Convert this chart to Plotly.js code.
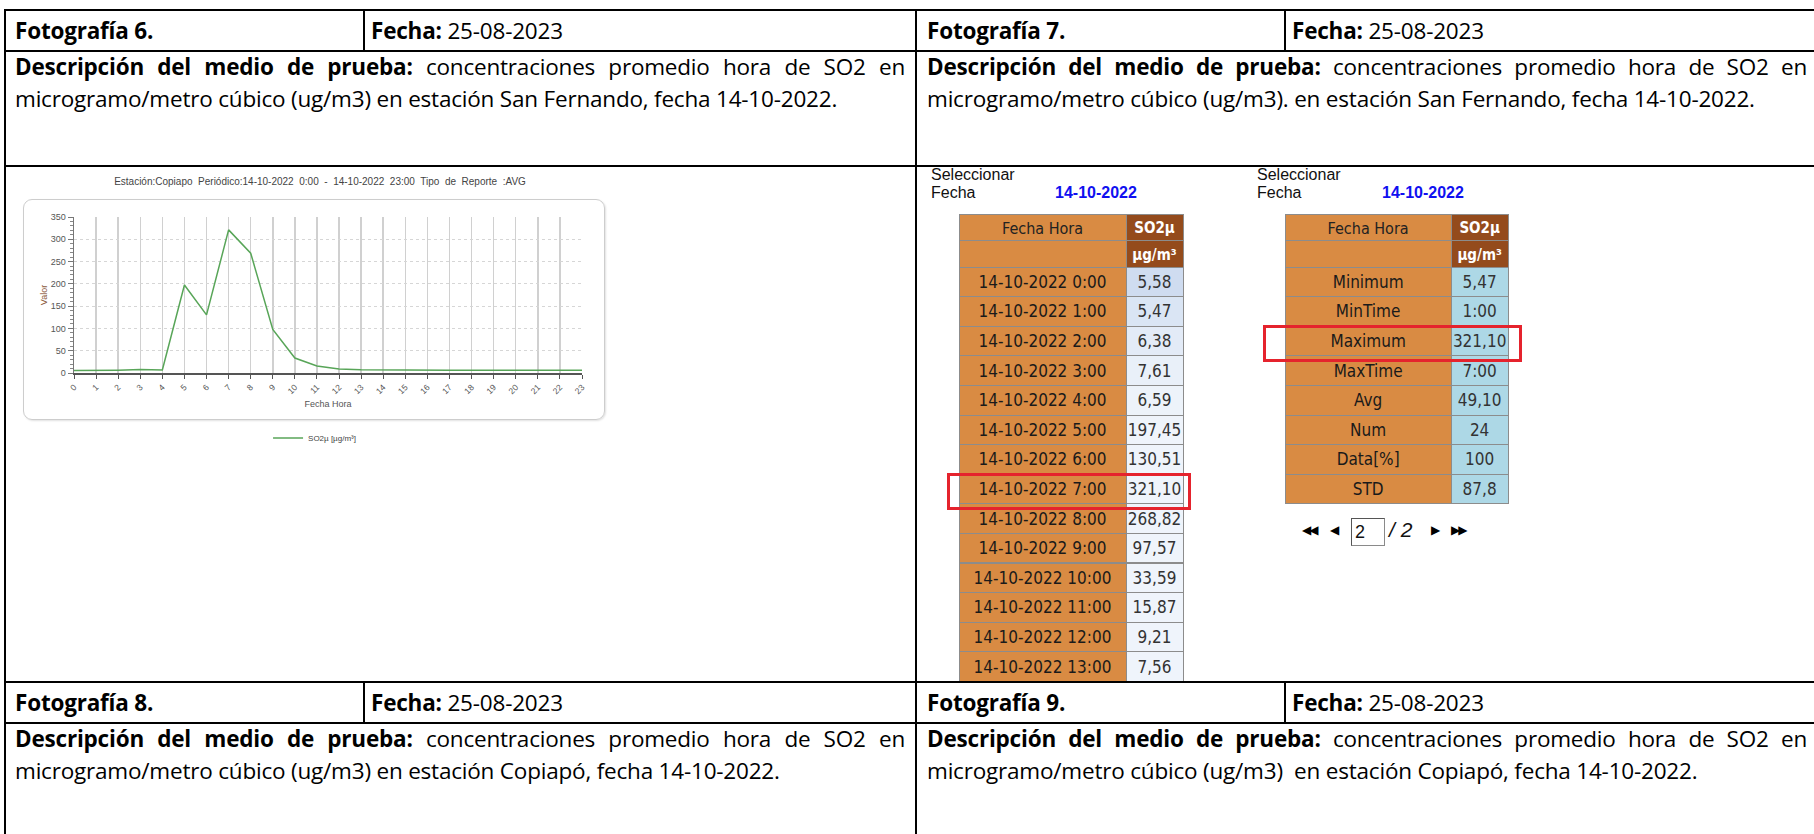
<!DOCTYPE html>
<html><head><meta charset="utf-8">
<script src="https://cdn.plot.ly/plotly-3.0.1.min.js"></script>
<style>
html,body{margin:0;padding:0;background:#fff;width:1814px;height:834px;overflow:hidden;position:relative;}
.hl{position:absolute;height:2px;background:#000;z-index:5;}
.vl{position:absolute;width:2px;background:#000;z-index:5;}
.doc{position:absolute;font-family:"Open Sans",Lato,sans-serif;font-size:22.5px;color:#000;white-space:nowrap;letter-spacing:-0.2px;}
.row{line-height:41px;height:41px;}
.l1{text-align:justify;text-align-last:justify;line-height:32px;white-space:normal;}
.l2{line-height:32px;white-space:pre;}
.ui{position:absolute;font-family:"Liberation Sans",Arial,sans-serif;font-size:16px;color:#111;white-space:nowrap;}
.red{position:absolute;border:3.5px solid #e5232d;box-sizing:border-box;z-index:6;}
.tri{position:absolute;font-family:"DejaVu Sans",sans-serif;font-size:12px;color:#000;letter-spacing:-2px;line-height:14px;}
</style></head><body>

<!-- document frame -->
<div class="hl" style="left:4px;top:9px;width:1820px"></div>
<div class="hl" style="left:4px;top:50px;width:1820px"></div>
<div class="hl" style="left:4px;top:165px;width:1820px"></div>
<div class="hl" style="left:4px;top:681px;width:1820px"></div>
<div class="hl" style="left:4px;top:722px;width:1820px"></div>
<div class="vl" style="left:4px;top:9px;height:830px"></div>
<div class="vl" style="left:915px;top:9px;height:830px"></div>
<div class="vl" style="left:363px;top:9px;height:42px"></div>
<div class="vl" style="left:1284px;top:9px;height:42px"></div>
<div class="vl" style="left:363px;top:681px;height:42px"></div>
<div class="vl" style="left:1284px;top:681px;height:42px"></div>

<div class="doc row" style="left:15px;top:10px"><b>Fotografía 6.</b></div>
<div class="doc row" style="left:371px;top:10px"><b>Fecha:</b> 25-08-2023</div>
<div class="doc row" style="left:927px;top:10px"><b>Fotografía 7.</b></div>
<div class="doc row" style="left:1292px;top:10px"><b>Fecha:</b> 25-08-2023</div>

<div class="doc" style="left:15px;top:51px;width:890px">
<div class="l1"><b>Descripción del medio de prueba:</b> concentraciones promedio hora de SO2 en</div>
<div class="l2">microgramo/metro cúbico (ug/m3) en estación San Fernando, fecha 14-10-2022.</div></div>
<div class="doc" style="left:927px;top:51px;width:880px">
<div class="l1"><b>Descripción del medio de prueba:</b> concentraciones promedio hora de SO2 en</div>
<div class="l2">microgramo/metro cúbico (ug/m3). en estación San Fernando, fecha 14-10-2022.</div></div>

<div class="doc row" style="left:15px;top:682px"><b>Fotografía 8.</b></div>
<div class="doc row" style="left:371px;top:682px"><b>Fecha:</b> 25-08-2023</div>
<div class="doc row" style="left:927px;top:682px"><b>Fotografía 9.</b></div>
<div class="doc row" style="left:1292px;top:682px"><b>Fecha:</b> 25-08-2023</div>

<div class="doc" style="left:15px;top:723px;width:890px">
<div class="l1"><b>Descripción del medio de prueba:</b> concentraciones promedio hora de SO2 en</div>
<div class="l2">microgramo/metro cúbico (ug/m3) en estación Copiapó, fecha 14-10-2022.</div></div>
<div class="doc" style="left:927px;top:723px;width:880px">
<div class="l1"><b>Descripción del medio de prueba:</b> concentraciones promedio hora de SO2 en</div>
<div class="l2">microgramo/metro cúbico (ug/m3)  en estación Copiapó, fecha 14-10-2022.</div></div>

<!-- chart frame box -->
<div style="position:absolute;left:23px;top:199px;width:582px;height:221px;border:1.5px solid #cdcdcd;border-radius:9px;box-sizing:border-box;box-shadow:1px 1px 2px rgba(0,0,0,0.12);"></div>
<div id="chart" style="position:absolute;left:0;top:166px;width:640px;height:300px;"></div>

<!-- photo 7 -->
<div class="ui" style="left:931px;top:166px;line-height:18px">Seleccionar<br>Fecha</div>
<div class="ui" style="left:1055px;top:184px;line-height:18px;font-weight:bold;color:#1010f0">14-10-2022</div>
<div class="ui" style="left:1257px;top:166px;line-height:18px">Seleccionar<br>Fecha</div>
<div class="ui" style="left:1382px;top:184px;line-height:18px;font-weight:bold;color:#1010f0">14-10-2022</div>

<div style="position:absolute;left:917px;top:167px;width:897px;height:514px;overflow:hidden;">
<div id="tables" style="position:absolute;left:0;top:-1px;width:897px;height:540px;"></div>
</div>

<div class="red" style="left:947px;top:473px;width:244px;height:37px"></div>
<div class="red" style="left:1263px;top:325px;width:259px;height:37px"></div>

<!-- pager -->
<div class="tri" style="left:1302px;top:523px">◀◀</div>
<div class="tri" style="left:1330px;top:523px">◀</div>
<div style="position:absolute;left:1351px;top:518px;width:34px;height:28px;border:1px solid #8a8a8a;border-top-color:#555;border-left-color:#555;box-sizing:border-box;"></div>
<div class="ui" style="left:1355px;top:520px;font-size:18px;line-height:24px">2</div>
<div class="ui" style="left:1389px;top:518px;font-size:21px;line-height:24px;font-style:italic">/ 2</div>
<div class="tri" style="left:1431px;top:523px">▶</div>
<div class="tri" style="left:1451px;top:523px">▶▶</div>

<script>
// ---------- data ----------
const hours = [0,1,2,3,4,5,6,7,8,9,10,11,12,13,14,15,16,17,18,19,20,21,22,23];
const hourLabels = ["0","1","2","3","4","5","6","7","8","9","10","11","12","13","14","15","16","17","18","19","20","21","22","23"];
const so2 = [5.58,5.47,6.38,7.61,6.59,197.45,130.51,321.10,268.82,97.57,33.59,15.87,9.21,7.56,6.9,6.7,6.5,6.4,6.3,6.4,6.5,6.6,6.4,6.4];
const tableDate = "14-10-2022";
const rowsShown = 14;
const statNames = ["Minimum","MinTime","Maximum","MaxTime","Avg","Num","Data[%]","STD"];
const statValues = ["5,47","1:00","321,10","7:00","49,10","24","100","87,8"];
const chartTitle = "Estación:Copiapo  Periódico:14-10-2022  0:00  -  14-10-2022  23:00  Tipo  de  Reporte  :AVG";
const seriesName = "SO2µ [µg/m³]";
const headerTop = ["Fecha Hora","SO2µ"];
const headerUnits = ["","µg/m³"];

// ---------- chart ----------
const chartTrace = {
  type:'scatter', mode:'lines', x:hours, y:so2, name:seriesName,
  line:{color:'#58a558', width:1.5}
};
const chartLayout = {
  width:640, height:300, margin:{l:74,r:58,t:51,b:93},
  paper_bgcolor:'rgba(0,0,0,0)', plot_bgcolor:'rgba(0,0,0,0)',
  font:{family:'"Liberation Sans", Arial, sans-serif', color:'#555'},
  title:{text:chartTitle.replace(/  /g,'\u00a0 '), x:0.5, xanchor:'center', y:0.947, yanchor:'middle',
         font:{family:'"Liberation Sans", Arial, sans-serif', size:10, color:'#444'}},
  xaxis:{range:[0,23], tickmode:'array', tickvals:hours, ticktext:hourLabels, tickangle:-45,
         showgrid:true, gridcolor:'#d0d0d0', gridwidth:1.5, zeroline:false,
         showline:true, linecolor:'#555', linewidth:2, ticks:'outside', ticklen:4, tickcolor:'#555',
         tickfont:{size:8.5,color:'#555'},
         title:{text:'Fecha Hora', font:{size:9,color:'#555'}, standoff:6}},
  yaxis:{range:[0,350], tick0:0, dtick:50, showgrid:true, gridcolor:'#d6d6d6', griddash:'dot', gridwidth:1,
         zeroline:false, showline:true, linecolor:'#777', linewidth:1.5,
         ticks:'outside', ticklen:5, tickcolor:'#777',
         minor:{dtick:10, ticks:'outside', ticklen:3, tickcolor:'#888', showgrid:false},
         tickfont:{size:9,color:'#555'},
         title:{text:'Valor', font:{size:9,color:'#8b5a3c'}, standoff:1}},
  showlegend:true,
  legend:{orientation:'h', x:0.382, y:-0.417, xanchor:'left', yanchor:'middle', font:{size:8,color:'#444'}, bgcolor:'rgba(0,0,0,0)'}
};
Plotly.newPlot('chart',[chartTrace],chartLayout,{staticPlot:true,displayModeBar:false});

// ---------- tables ----------
const fmt = v => v.toFixed(2).replace('.',',');
const dateCol = hours.slice(0,rowsShown).map(h => tableDate+' '+h+':00');
const valCol = so2.slice(0,rowsShown).map(fmt);
const orange = '#d98b43', brown = '#944b1c';
const blueGrad = ['#cfdcf0','#dae5f4','#e3ebf7','#e9f0f9','#edf3fa'];
const valFill = dateCol.map((d,i)=> i<blueGrad.length ? blueGrad[i] : '#eff4fb');
const F = '"DejaVu Sans Condensed","DejaVu Sans",Verdana,sans-serif';
const W = 897, H = 540, topY = 48;

function makeTable(x0, col0, col1, fill1){
  return {
    type:'table',
    domain:{x:[x0/W,(x0+224)/W], y:[0,1-topY/H]},
    columnwidth:[167,57],
    header:{values:[[headerTop[0],headerUnits[0]],[headerTop[1],headerUnits[1]]], height:26.5, align:'center',
            fill:{color:[orange,brown]}, line:{color:'#8c8c8c',width:1},
            font:{family:F,size:[16,15],color:['#222','#ffffff'],weight:['normal','bold']}},
    cells:{values:[col0,col1], height:29.6, align:'center',
           fill:{color:[col0.map(()=>orange), fill1]}, line:{color:'#8c8c8c',width:1},
           font:{family:F, size:17, color:['#1a1a1a','#333333']}}
  };
}
const t1 = makeTable(42, dateCol, valCol, valFill);
const t2 = makeTable(368, statNames, statValues, statValues.map(()=> '#add8e6'));
Plotly.newPlot('tables',[t1,t2],{width:W,height:H,margin:{l:0,r:0,t:0,b:0},paper_bgcolor:'rgba(0,0,0,0)'},{staticPlot:true,displayModeBar:false});
</script>
</body></html>
